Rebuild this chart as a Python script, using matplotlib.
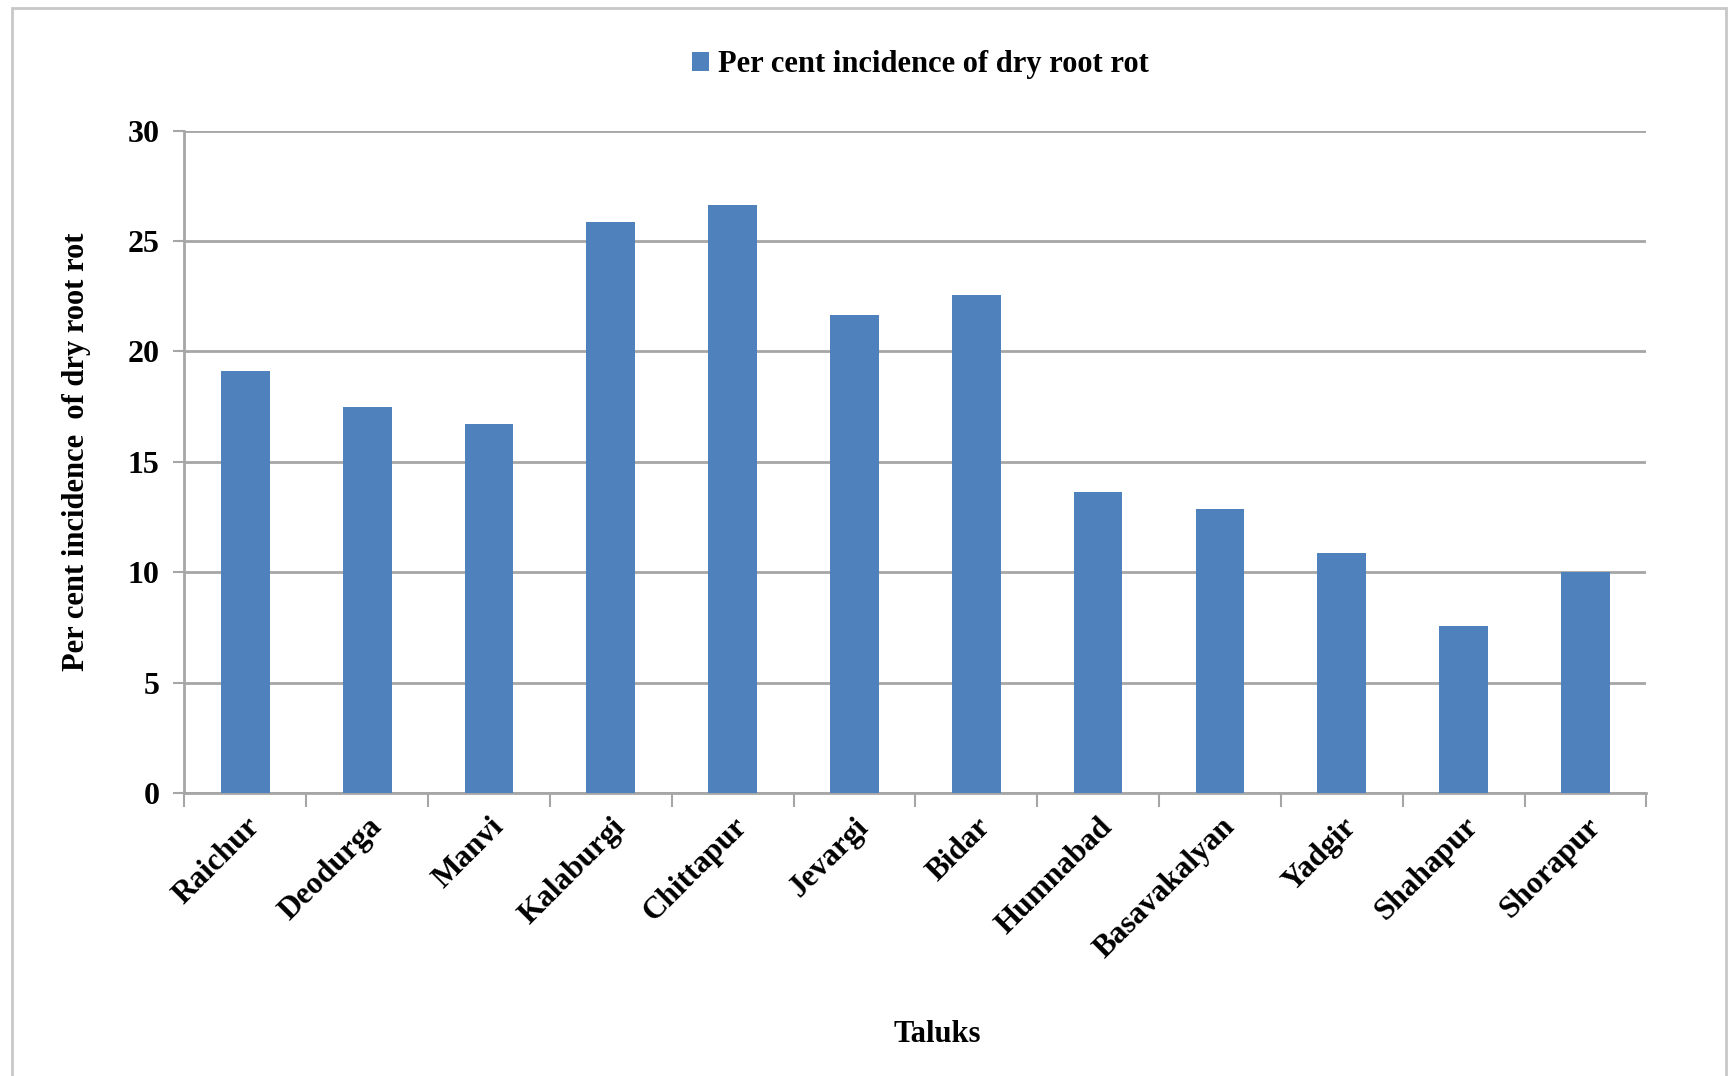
import matplotlib.pyplot as plt
from matplotlib.patches import Rectangle

# data
taluks = ["Raichur", "Deodurga", "Manvi", "Kalaburgi", "Chittapur", "Jevargi",
          "Bidar", "Humnabad", "Basavakalyan", "Yadgir", "Shahapur", "Shorapur"]
incidence = [19.1, 17.5, 16.7, 25.85, 26.65, 21.65,
             22.55, 13.65, 12.85, 10.85, 7.55, 10.0]
yticks = [0, 5, 10, 15, 20, 25, 30]

plt.rcParams['font.family'] = ['Liberation Serif', 'DejaVu Serif']
plt.rcParams['font.weight'] = 'bold'

fig = plt.figure(figsize=(17.33, 10.76), dpi=100)
ax = fig.add_axes([0.1064, 0.263, 0.8436, 0.6155])

x = list(range(len(taluks)))
ax.bar(x, incidence, width=0.4, color="#4F81BD", zorder=3,
       label="Per cent incidence of dry root rot")

ax.set_xlim(-0.5, len(taluks) - 0.5)
ax.set_ylim(0, 30)
ax.set_yticks(yticks)
ax.yaxis.grid(True, color="#a6a6a6", linewidth=2, zorder=0)

for s in ["top", "right"]:
    ax.spines[s].set_visible(False)
for s in ["left", "bottom"]:
    ax.spines[s].set_color("#a6a6a6")
    ax.spines[s].set_linewidth(2)

ax.set_xticks(x)
ax.set_xticklabels(taluks, rotation=45, ha="right", va="top",
                   rotation_mode="anchor", fontsize=22.5, fontweight="bold")
ax.set_xticks([i - 0.5 for i in range(len(taluks) + 1)], minor=True)
ax.tick_params(axis="x", which="major", length=0, pad=14)
ax.tick_params(axis="x", which="minor", length=10, width=1.5, color="#a6a6a6")
ax.tick_params(axis="y", length=8, width=1.5, color="#a6a6a6", labelsize=23, pad=10)
for t in ax.get_yticklabels():
    t.set_fontweight("bold")

ax.set_ylabel("Per cent incidence  of dry root rot", fontsize=22, fontweight="bold")
ax.yaxis.set_label_coords(-0.064, 0.515)
ax.set_xlabel("Taluks", fontsize=22, fontweight="bold")
ax.xaxis.set_label_coords(0.515, -0.343)

leg = ax.legend(loc="center", bbox_to_anchor=(0.531, 0.94),
                bbox_transform=fig.transFigure, frameon=False, fontsize=22,
                handlelength=0.55, handleheight=0.6, handletextpad=0.3)
for t in leg.get_texts():
    t.set_fontweight("bold")

# outer chart border
fig.patches.append(Rectangle((0.007, -0.05), 0.989, 1.043, transform=fig.transFigure,
                             fill=False, edgecolor="#c8c8c8", linewidth=2))

fig.savefig("out.png", dpi=100)
